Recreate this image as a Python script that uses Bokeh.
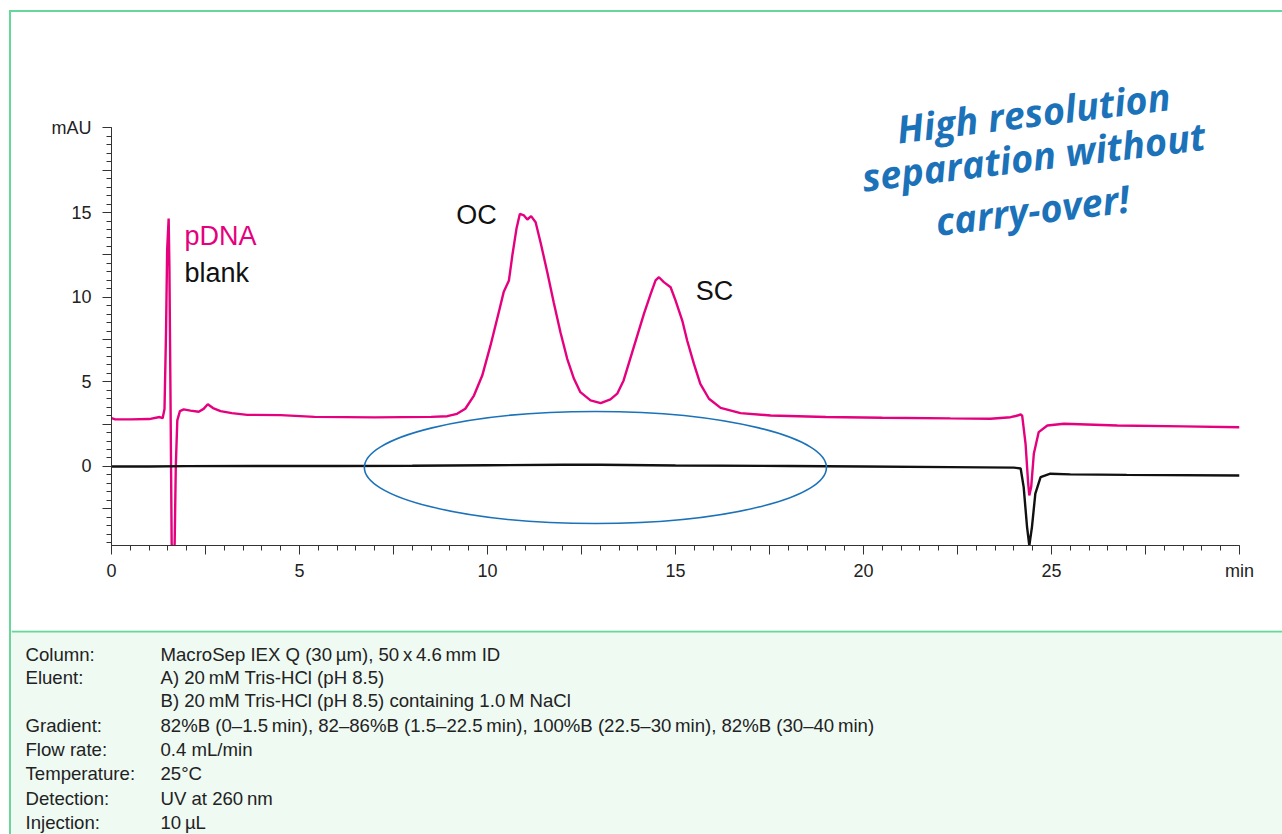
from bokeh.plotting import figure
from bokeh.models import Range1d, FixedTicker, Label
from bokeh.layouts import column
from bokeh.embed import file_html
from bokeh.resources import INLINE
from bokeh.core.properties import value

# ---------------- data ----------------
pdna_t = [0.0, 0.1, 0.5, 1.0, 1.28, 1.36, 1.41, 1.45, 1.48, 1.52, 1.54, 1.57, 1.60, 1.63, 1.66, 1.68,
          1.71, 1.75, 1.82, 1.92, 2.1, 2.32, 2.45, 2.56, 2.7, 2.9, 3.2, 3.61, 4.5, 5.4, 7.0, 8.5,
          8.93, 9.19, 9.41, 9.64, 9.86, 10.08, 10.30, 10.43, 10.57, 10.66, 10.77, 10.86, 10.97,
          11.06, 11.16, 11.28, 11.41, 11.59, 11.76, 11.94, 12.12, 12.30, 12.47, 12.74, 13.01,
          13.27, 13.45, 13.62, 13.89, 14.16, 14.34, 14.47, 14.56, 14.69, 14.87, 15.0, 15.18,
          15.31, 15.49, 15.66, 15.89, 16.2, 16.73, 17.53, 19.0, 20.5, 22.31, 23.38, 23.91, 24.05,
          24.18, 24.22, 24.31, 24.38, 24.41, 24.46, 24.53, 24.66, 24.89, 25.33, 26.75, 28.5, 30.0]
pdna_y = [2.85, 2.78, 2.78, 2.8, 2.92, 2.85, 3.4, 7.9, 12.8, 14.65, 11.8, 3.9, -4.5, -6.0, -6.0, -4.5,
          0.0, 2.72, 3.27, 3.37, 3.3, 3.23, 3.4, 3.68, 3.45, 3.27, 3.15, 3.05, 3.03, 2.93, 2.9, 2.93,
          2.97, 3.11, 3.41, 4.19, 5.37, 7.15, 9.11, 10.30, 10.99, 12.46, 14.04, 14.92, 14.83,
          14.59, 14.79, 14.43, 13.25, 11.48, 9.70, 7.93, 6.36, 5.18, 4.39, 3.90, 3.74,
          3.96, 4.3, 5.08, 7.05, 9.02, 10.20, 10.99, 11.18, 10.89, 10.59, 9.81, 8.62,
          7.44, 6.06, 4.88, 4.00, 3.46, 3.15, 3.01, 2.92, 2.88, 2.84, 2.82, 2.91, 2.98,
          3.07, 3.0, 1.34, -1.02, -1.71, -1.22, 0.75, 2.03, 2.42, 2.52, 2.42, 2.37, 2.32]

blank_t = [0.0, 1.0, 2.0, 4.0, 6.0, 8.0, 10.0, 12.0, 13.0, 15.0, 18.0, 20.0, 22.3, 24.0, 24.18,
           24.26, 24.35, 24.41, 24.48, 24.57, 24.71, 24.97, 25.5, 27.0, 30.0]
blank_y = [0.0, 0.0, 0.02, 0.03, 0.03, 0.04, 0.07, 0.1, 0.1, 0.06, 0.03, 0.0, -0.04, -0.07, -0.12,
           -1.22, -3.58, -4.67, -3.58, -1.61, -0.63, -0.43, -0.47, -0.5, -0.53]

# highlight ellipse (centre, width, height in data units)
ell_x, ell_y, ell_w, ell_h = 12.87, -0.06, 12.29, 6.62

x_major = [0, 2.5, 5, 7.5, 10, 12.5, 15, 17.5, 20, 22.5, 25, 27.5, 30]
x_minor = [i * 0.5 for i in range(61)]
x_labels = {0: "0", 5: "5", 10: "10", 15: "15", 20: "20", 25: "25", 30: "min"}
y_major = [-2.5, 0, 2.5, 5, 7.5, 10, 12.5, 15, 17.5, 20]
y_minor = [-4.5 + i * 0.5 for i in range(50)]
y_labels = {0: "0", 5: "5", 10: "10", 15: "15", 20: "mAU"}

note_lines = ["High resolution", "separation without", "carry-over!"]
note_x = [24.52, 24.52, 24.49]
note_y = [20.95, 18.35, 15.2]

info_keys = ["Column:", "Eluent:", "", "Gradient:", "Flow rate:", "Temperature:", "Detection:", "Injection:"]
info_vals = ["MacroSep IEX Q (30\u2009\u00b5m), 50\u2009x\u20094.6\u2009mm ID",
             "A) 20\u2009mM Tris-HCl (pH 8.5)",
             "B) 20\u2009mM Tris-HCl (pH 8.5) containing 1.0\u2009M NaCl",
             "82%B (0\u20131.5\u2009min), 82\u201386%B (1.5\u201322.5\u2009min), 100%B (22.5\u201330\u2009min), 82%B (30\u201340\u2009min)",
             "0.4 mL/min",
             "25\u00b0C",
             "UV at 260\u2009nm",
             "10\u2009\u00b5L"]

PINK = "#e5007e"
BLUE = "#1b72b9"
GREEN = "#66d69a"
FONT = "Liberation Sans"

# ---------------- chart ----------------
p = figure(width=1271, height=618, x_range=Range1d(0, 30), y_range=Range1d(-4.67, 26.82),
           output_backend="svg", toolbar_location=None,
           min_border_left=100, min_border_right=43, min_border_top=0, min_border_bottom=85)
p.xgrid.visible = False
p.ygrid.visible = False
p.outline_line_color = None

for ax, maj, mnr, labs in ((p.xaxis[0], x_major, x_minor, x_labels), (p.yaxis[0], y_major, y_minor, y_labels)):
    ax.ticker = FixedTicker(ticks=maj, minor_ticks=mnr)
    ax.major_label_overrides = {t: labs.get(t, "") for t in maj}
    ax.axis_line_color = "#333333"
    ax.major_tick_line_color = "#333333"
    ax.minor_tick_line_color = "#333333"
    ax.major_tick_in = 0
    ax.minor_tick_in = 0
    ax.major_tick_out = 9
    ax.minor_tick_out = 5
    ax.major_label_text_font = FONT
    ax.major_label_text_font_size = "18px"
    ax.major_label_text_color = "#222222"
p.xaxis.major_label_standoff = 6
p.yaxis.major_label_standoff = 11
p.yaxis.bounds = (-4.67, 20)

p.line(pdna_t, pdna_y, line_color=PINK, line_width=2.4)
p.line(blank_t, blank_y, line_color="#111111", line_width=2.4)
p.ellipse(x=[ell_x], y=[ell_y], width=[ell_w], height=[ell_h], fill_color=None,
          line_color=BLUE, line_width=1.6)

for txt, xx, yy, col in (("pDNA", 1.94, 13.59, PINK), ("blank", 1.94, 11.4, "#111111")):
    p.add_layout(Label(x=xx, y=yy, text=txt, text_color=col, text_font=FONT,
                       text_font_size="27px", text_baseline="middle", text_align="left"))
for txt, xx, yy in (("OC", 9.71, 14.83), ("SC", 16.04, 10.34)):
    p.add_layout(Label(x=xx, y=yy, text=txt, text_color="#111111", text_font=FONT,
                       text_font_size="27px", text_baseline="middle", text_align="center"))
for txt, xx, yy in zip(note_lines, note_x, note_y):
    p.add_layout(Label(x=xx, y=yy, text=txt, text_color=BLUE, text_font="Open Sans",
                       text_font_style="bold italic", text_font_size="38px",
                       text_baseline="middle", text_align="center", angle=7, angle_units="deg"))

# ---------------- conditions panel (coordinates = page pixels) ----------------
q = figure(width=1271, height=204, x_range=Range1d(11, 1282), y_range=Range1d(834, 630),
           output_backend="svg", toolbar_location=None, min_border=0,
           min_border_left=0, min_border_right=0, min_border_top=0, min_border_bottom=0)
q.axis.visible = False
q.xgrid.visible = False
q.ygrid.visible = False
q.outline_line_color = None
q.background_fill_color = "#effaf3"
q.border_fill_color = "#effaf3"
q.segment(x0=[11], y0=[631], x1=[1282], y1=[631], line_color=GREEN, line_width=2)
rows_y = [654, 677, 700, 725, 749, 773, 798, 822]
q.text(x=[25] * len(info_keys), y=rows_y, text=info_keys, text_font=value(FONT),
       text_font_size="18.6px", text_color="#222222", text_baseline="middle")
q.text(x=[160] * len(info_vals), y=rows_y, text=info_vals, text_font=value(FONT),
       text_font_size="18.6px", text_color="#222222", text_baseline="middle")

layout = column(p, column(q), spacing=0, margin=(10, 0, 0, 9),
                styles={"border-top": "2px solid " + GREEN, "border-left": "2px solid " + GREEN})
open("out.html", "w").write(file_html(layout, INLINE))
